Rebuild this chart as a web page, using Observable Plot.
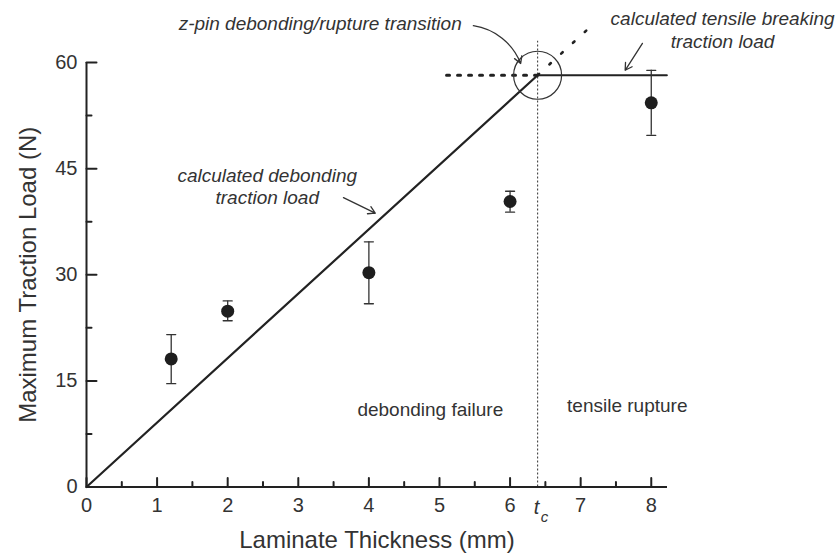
<!DOCTYPE html>
<html><head><meta charset="utf-8">
<script src="https://cdn.jsdelivr.net/npm/d3@7"></script>
<script src="https://cdn.jsdelivr.net/npm/@observablehq/plot@0.6"></script>
<style>body{margin:0;background:#fff}</style>
</head><body><div id="chart"></div>
<script>
// measured data (mm, N)
const thickness = [1.2, 2, 4, 6, 8];
const loadMean = [18.1, 24.85, 30.3, 40.35, 54.3];
const loadLow = [14.6, 23.5, 25.9, 38.85, 49.7];
const loadHigh = [21.55, 26.3, 34.65, 41.8, 58.9];
// calculated model
const modelX = [0, 6.39, 8.22];
const modelY = [0, 58.2, 58.2];
const tc = 6.39;
const breakLoad = 58.2;
const extHorizX = [5.1, 6.39];
const extDiagX = [6.39, 7.1];
const extDiagY = [58.2, 64.7];
// ticks
const xTicks = [0, 1, 2, 3, 4, 5, 6, 7, 8];
const xMinor = [0.5, 1.5, 2.5, 3.5, 4.5, 5.5, 6.5, 7.5];
const yTicks = [0, 15, 30, 45, 60];
const yMinor = [7.5, 22.5, 37.5, 52.5];
// annotations
const annoText = ["z-pin debonding/rupture transition", "calculated tensile breaking\ntraction load", "calculated debonding\ntraction load"];
const annoX = [3.31, 9.01, 2.56];
const annoY = [65.65, 64.7, 42.6];
const regionText = ["debonding failure", "tensile rupture"];
const regionX = [4.87, 7.66];
const regionY = [10.95, 11.45];
const arrowX1 = [5.48, 7.875, 3.64];
const arrowY1 = [65.2, 62.7, 40.9];
const arrowX2 = [6.15, 7.63, 4.09];
const arrowY2 = [59.86, 58.9, 38.7];
const arrowBend = [30, 0, 0];

const pts = thickness.map((t, i) => ({t, m: loadMean[i], lo: loadLow[i], hi: loadHigh[i]}));
const model = modelX.map((x, i) => ({x, y: modelY[i]}));
const annos = annoText.map((s, i) => ({s, x: annoX[i], y: annoY[i]}));
const regions = regionText.map((s, i) => ({s, x: regionX[i], y: regionY[i]}));
const arrows = arrowX1.map((x1, i) => ({x1, y1: arrowY1[i], x2: arrowX2[i], y2: arrowY2[i], bend: arrowBend[i]}));

const lineUp = {draw(ctx, l) { ctx.moveTo(0, 0); ctx.lineTo(0, -l); }};
const hCap = {draw(ctx, l) { ctx.moveTo(-l / 2, 0); ctx.lineTo(l / 2, 0); }};
const ink = "#222";
const txt = "#333";
const font = "'Liberation Sans', Arial, sans-serif";

const chart = Plot.plot({
  width: 837, height: 558,
  marginLeft: 86, marginRight: 170, marginTop: 62, marginBottom: 71.5,
  x: {domain: [0, 8.23]},
  y: {domain: [0, 60]},
  style: {fontFamily: font, background: "#fff", color: txt},
  marks: [
    // tc dashed line
    Plot.ruleX([tc], {y1: 0, y2: 63, stroke: "#444", strokeWidth: 1.1, strokeDasharray: "2,2"}),
    // axes
    Plot.ruleY([0], {stroke: ink, strokeWidth: 2}),
    Plot.ruleX([0], {stroke: ink, strokeWidth: 2}),
    Plot.vector(xTicks, {x: d => d, y: 0, length: 9, rotate: 0, anchor: "start", shape: lineUp, stroke: ink, strokeWidth: 2}),
    Plot.vector(xMinor, {x: d => d, y: 0, length: 5, rotate: 0, anchor: "start", shape: lineUp, stroke: ink, strokeWidth: 2}),
    Plot.vector(yTicks, {x: 0, y: d => d, length: 10, rotate: 90, anchor: "start", shape: lineUp, stroke: ink, strokeWidth: 2}),
    Plot.vector(yMinor, {x: 0, y: d => d, length: 5, rotate: 90, anchor: "start", shape: lineUp, stroke: ink, strokeWidth: 2}),
    Plot.axisX(xTicks, {tickSize: 0, tickPadding: 11, fontSize: 20, label: null, fill: txt}),
    Plot.axisY(yTicks, {tickSize: 0, tickPadding: 9, fontSize: 20, label: null, fill: txt}),
    Plot.text(["t"], {x: tc, y: 0, dy: 21, dx: -1, fontSize: 20, fontStyle: "italic", fill: txt}),
    Plot.text(["c"], {x: tc, y: 0, dy: 30, dx: 7, fontSize: 15, fontStyle: "italic", fill: txt}),
    Plot.text(["Laminate Thickness (mm)"], {frameAnchor: "bottom", dy: 61, fontSize: 24, fill: txt}),
    Plot.text(["Maximum Traction Load (N)"], {frameAnchor: "left", textAnchor: "middle", dx: -58, rotate: -90, fontSize: 24, fill: txt}),
    // dotted extensions
    Plot.line(extHorizX, {x: d => d, y: breakLoad, stroke: ink, strokeWidth: 3, strokeDasharray: "3,8"}),
    Plot.line(extDiagX, {x: d => d, y: (d, i) => extDiagY[i], stroke: ink, strokeWidth: 2.6, strokeDasharray: "2,14"}),
    // model line
    Plot.line(model, {x: "x", y: "y", stroke: ink, strokeWidth: 2.2}),
    // transition circle
    Plot.dot([tc], {x: d => d, y: breakLoad, r: 24, stroke: "#333", strokeWidth: 1.2, fill: "none"}),
    // error bars
    Plot.ruleX(pts, {x: "t", y1: "lo", y2: "hi", stroke: "#333", strokeWidth: 1.3}),
    Plot.vector(pts, {x: "t", y: "lo", length: 9, rotate: 0, anchor: "start", shape: hCap, stroke: "#333", strokeWidth: 1.3}),
    Plot.vector(pts, {x: "t", y: "hi", length: 9, rotate: 0, anchor: "start", shape: hCap, stroke: "#333", strokeWidth: 1.3}),
    Plot.dot(pts, {x: "t", y: "m", r: 6.5, fill: "#1e1e1e", stroke: "none"}),
    // annotations
    Plot.text(annos, {x: "x", y: "y", text: "s", fontSize: 19, fontStyle: "italic", lineHeight: 1.2, fill: txt}),
    Plot.text(regions, {x: "x", y: "y", text: "s", fontSize: 19, fill: txt}),
    Plot.arrow(arrows.filter(a => a.bend !== 0), {x1: "x1", y1: "y1", x2: "x2", y2: "y2", bend: 30, headLength: 9, stroke: "#333", strokeWidth: 1.3}),
    Plot.arrow(arrows.filter(a => a.bend === 0), {x1: "x1", y1: "y1", x2: "x2", y2: "y2", headLength: 9, stroke: "#333", strokeWidth: 1.3})
  ]
});
document.getElementById("chart").appendChild(chart);
</script>
</body></html>
